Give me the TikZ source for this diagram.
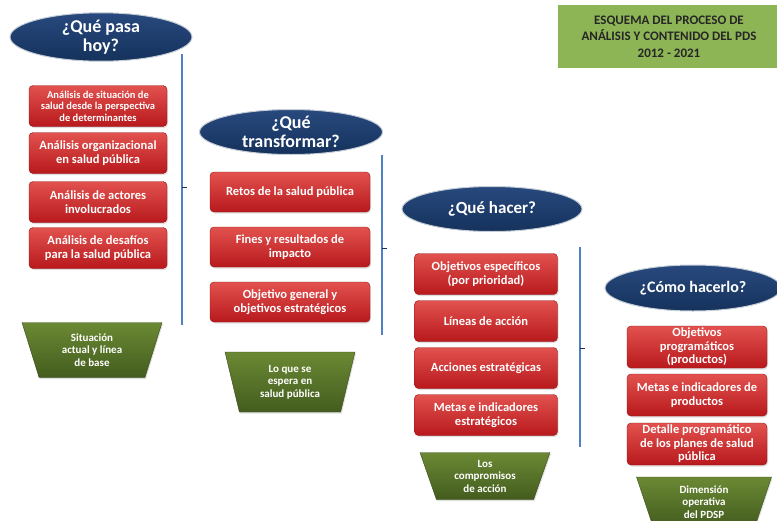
\documentclass[tikz,border=0pt]{standalone}
\usepackage{fontspec}
\setmainfont{Carlito}
\usetikzlibrary{shapes.geometric,shadows}

\definecolor{navy}{HTML}{15325C}
\definecolor{navylight}{HTML}{28497E}
\definecolor{boxtop}{HTML}{E2524F}
\definecolor{boxbot}{HTML}{B8191C}
\definecolor{olivetop}{HTML}{6B8934}
\definecolor{olivebot}{HTML}{435C1E}
\definecolor{barblue}{HTML}{4F7FC4}
\definecolor{titlegreen}{HTML}{8DB556}

\tikzset{
  question/.style={ellipse, draw=white!75!navy, line width=1pt, top color=navylight, bottom color=navy,
    text=white, font=\bfseries\fontsize{18}{19}\selectfont, align=center, inner sep=0pt},
  redbox/.style={rounded corners=4pt, top color=boxtop, bottom color=boxbot, draw=boxbot!80!black,
    line width=0.4pt, text=white, font=\bfseries\fontsize{12.5}{14.5}\selectfont, align=center,
    minimum height=41pt, inner sep=0pt,
    drop shadow={opacity=0.25, shadow xshift=1pt, shadow yshift=-1.5pt}},
  outcome/.style={trapezium, shape border rotate=180, trapezium stretches body,
    top color=olivetop, bottom color=olivebot, draw=olivebot!80!black, line width=0.4pt,
    text=white, font=\bfseries\fontsize{11}{12.5}\selectfont, align=center, inner sep=0pt,
    drop shadow={opacity=0.25, shadow xshift=1pt, shadow yshift=-1.5pt}},
  bar/.style={barblue, line width=2.2pt},
  notch/.style={navy, line width=1pt}
}

\begin{document}
\begin{tikzpicture}[x=1pt,y=-1pt]
\useasboundingbox (0,0) rectangle (777,520);

\node[fill=titlegreen, minimum width=222pt, minimum height=63pt, inner sep=0pt,
  font=\bfseries\fontsize{13}{16.5}\selectfont, text=black!85, align=center]
  (title) at (669,36.5) {ESQUEMA DEL PROCESO DE\\ANÁLISIS Y CONTENIDO DEL PDS\\2012 - 2021};

% que pasa hoy
\node[question, minimum width=182pt, minimum height=48pt] (q1) at (101,37) {¿Qué pasa\\hoy?};
\node[redbox, minimum width=138pt, font=\bfseries\fontsize{10.5}{11.5}\selectfont] (a1) at (98,106)
  {Análisis de situación de\\salud desde la perspectiva\\de determinantes};
\foreach \i/\y/\txt in {2/153/{Análisis organizacional\\en salud pública},
                        3/202/{Análisis de actores\\involucrados},
                        4/248/{Análisis de desafíos\\para la salud pública}}
  \node[redbox, minimum width=138pt] (a\i) at (98,\y) {\txt};
\node[outcome, minimum width=140pt, minimum height=55pt, trapezium angle=62.5] (s1) at (92,350)
  {Situación\\actual y línea\\de base};
\coordinate (b1t) at (182,54);
\coordinate (b1b) at (182,325);
\coordinate (b1m) at (182,187);
\draw[bar] (b1t) -- (b1b);
\draw[notch] (b1m) -- ++(5,0);

% que transformar
\node[question, minimum width=183pt, minimum height=45pt] (q2) at (291,132) {¿Qué\\transformar?};
\foreach \i/\y/\txt in {1/192/{Retos de la salud pública},
                        2/247/{Fines y resultados de\\impacto},
                        3/302/{Objetivo general y\\objetivos estratégicos}}
  \node[redbox, minimum width=160pt, minimum height=40pt] (t\i) at (290,\y) {\txt};
\node[outcome, minimum width=130pt, minimum height=60pt, trapezium angle=67] (s2) at (290,382)
  {Lo que se\\espera en\\salud pública};
\coordinate (b2t) at (382,155);
\coordinate (b2b) at (382,335);
\coordinate (b2m) at (382,248);
\draw[bar] (b2t) -- (b2b);
\draw[notch] (b2m) -- ++(5,0);

% que hacer
\node[question, minimum width=180pt, minimum height=45pt, font=\bfseries\fontsize{17}{18}\selectfont]
  (q3) at (492,209) {¿Qué hacer?};
\foreach \i/\y/\txt in {1/274/{Objetivos específicos\\(por prioridad)},
                        2/321/{Líneas de acción},
                        3/368/{Acciones estratégicas},
                        4/415/{Metas e indicadores\\estratégicos}}
  \node[redbox, minimum width=143pt] (h\i) at (486,\y) {\txt};
\node[outcome, minimum width=130pt, minimum height=47pt, trapezium angle=63] (s3) at (485,476)
  {Los\\compromisos\\de acción};
\coordinate (b3t) at (580,247);
\coordinate (b3b) at (580,447);
\coordinate (b3m) at (580,348);
\draw[bar] (b3t) -- (b3b);
\draw[notch] (b3m) -- ++(5,0);

% como hacerlo
\node[question, minimum width=176pt, minimum height=46pt, font=\bfseries\fontsize{16}{17}\selectfont]
  (q4) at (693,288) {¿Cómo hacerlo?};
\foreach \i/\y/\txt in {1/347/{Objetivos\\programáticos\\(productos)},
                        2/395/{Metas e indicadores de\\productos},
                        3/444/{Detalle programático\\de los planes de salud\\pública}}
  \node[redbox, minimum width=140pt, minimum height=42pt, font=\bfseries\fontsize{12.5}{13.5}\selectfont]
  (c\i) at (697,\y) {\txt};
\node[outcome, minimum width=135pt, minimum height=50pt, trapezium angle=63] (s4) at (704,502)
  {Dimensión\\operativa\\del PDSP};
\end{tikzpicture}
\end{document}
